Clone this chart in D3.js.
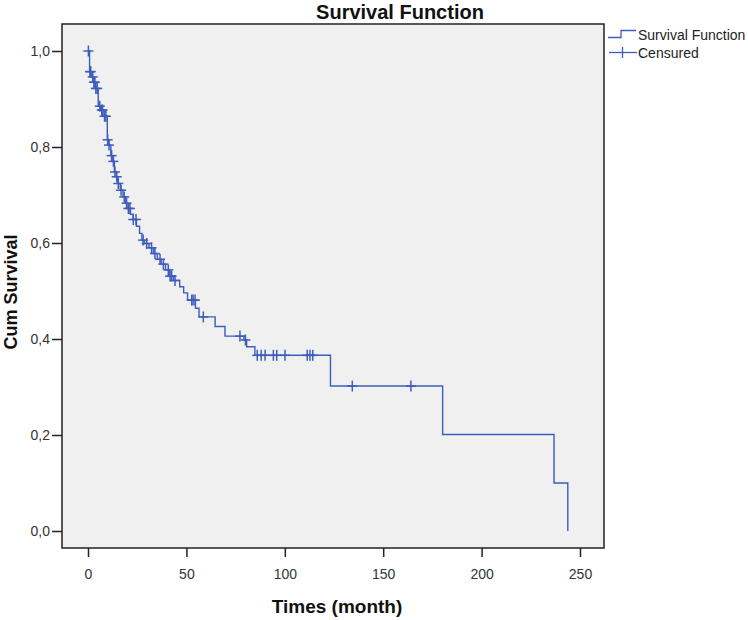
<!DOCTYPE html>
<html>
<head>
<meta charset="utf-8">
<script src="https://cdn.jsdelivr.net/npm/d3@7"></script>
<style>
html,body{margin:0;padding:0;background:#fff;}
svg{display:block;}
text{font-family:"Liberation Sans Narrow","Arial Narrow","Liberation Sans",Arial,sans-serif;}
</style>
</head>
<body>
<svg id="chart" width="748" height="620"></svg>
<script>
// ---- data ----
const chartTitle = "Survival Function";
const xTitle = "Times (month)";
const yTitle = "Cum Survival";
const xTicks = [0, 50, 100, 150, 200, 250];
const yTicks = [0, 0.2, 0.4, 0.6, 0.8, 1.0];
const yTickLabels = ["0,0", "0,2", "0,4", "0,6", "0,8", "1,0"];
const legendLabels = ["Survival Function", "Censured"];

// event times (months) and the cumulative survival right after each event
const eventTimes = [0.8, 1.6, 2.6, 3.6, 5.2, 6.4, 7.6, 9.8, 10.6, 11.6, 12.6, 13.4, 14.4, 15.2,
  16.4, 17.8, 19.2, 20.4, 21.6, 23.0, 24.6, 26.2, 27.4, 28.6, 31.0, 33.2, 35.2, 37.2, 39.4,
  41.4, 43.4, 46.6, 48.6, 50.6, 54.6, 56.4, 64.6, 69.6, 79.2, 80.6, 84.8, 123.2, 180.2, 236.8, 243.8];
const survival = [0.957, 0.946, 0.935, 0.922, 0.885, 0.877, 0.864, 0.815, 0.804, 0.782, 0.770, 0.748,
  0.738, 0.724, 0.710, 0.696, 0.683, 0.672, 0.660, 0.649, 0.635, 0.620, 0.606, 0.599, 0.590, 0.578,
  0.566, 0.556, 0.544, 0.531, 0.522, 0.509, 0.496, 0.481, 0.464, 0.446, 0.426, 0.406, 0.398, 0.384,
  0.366, 0.302, 0.201, 0.100, 0.0];
// censored observation times (months)
const censoredTimes = [0.2, 1.0, 1.4, 2.4, 3.0, 3.5, 4.0, 4.7, 6.0, 7.0, 7.4, 8.4, 9.1, 10.0, 10.7,
  12.0, 12.9, 13.7, 14.6, 15.4, 16.8, 18.4, 19.6, 20.5, 21.3, 23.0, 24.4, 28.0, 29.8, 32.3, 34.0,
  36.6, 38.3, 40.8, 41.7, 42.5, 44.2, 52.7, 53.4, 54.4, 58.6, 77.2, 80.0, 86.0, 88.0, 90.0, 94.2,
  95.9, 100.1, 111.4, 112.8, 114.2, 134.3, 164.1];

// ---- layout ----
const svg = d3.select("#chart");
const frame = {left: 62, right: 604, top: 24, bottom: 548};
const color = "#3d5cbc";
const fontStack = '"Liberation Sans Narrow","Arial Narrow","Liberation Sans",sans-serif';

const x = d3.scaleLinear().domain([0, 250]).range([88, 580]);
const y = d3.scaleLinear().domain([0, 1]).range([531, 51]);

// plot background
svg.append("rect")
  .attr("x", frame.left).attr("y", frame.top)
  .attr("width", frame.right - frame.left).attr("height", frame.bottom - frame.top)
  .attr("fill", "#f0f0f0").attr("stroke", "none");

// step data
const steps = [{t: 0, s: 1}].concat(eventTimes.map((t, i) => ({t: t, s: survival[i]})));
const survAt = t => {
  let s = 1;
  for (let i = 0; i < eventTimes.length; i++) { if (eventTimes[i] <= t) s = survival[i]; }
  return s;
};

const line = d3.line().x(d => x(d.t)).y(d => y(d.s)).curve(d3.curveStepAfter);
svg.append("path").datum(steps)
  .attr("d", line).attr("fill", "none")
  .attr("stroke", color).attr("stroke-width", 1.4);

// censored marks
const cg = svg.append("g").attr("stroke", color).attr("stroke-width", 1.5);
censoredTimes.forEach(t => {
  const cx = x(t), cy = y(survAt(t));
  cg.append("line").attr("x1", cx - 5).attr("x2", cx + 5).attr("y1", cy).attr("y2", cy);
  cg.append("line").attr("x1", cx).attr("x2", cx).attr("y1", cy - 5.5).attr("y2", cy + 5.5);
});

// frame
svg.append("rect")
  .attr("x", frame.left).attr("y", frame.top)
  .attr("width", frame.right - frame.left).attr("height", frame.bottom - frame.top)
  .attr("fill", "none").attr("stroke", "#222").attr("stroke-width", 1.5);

// x axis
const xAxis = d3.axisBottom(x).tickValues(xTicks).tickSize(9).tickPadding(12);
const xg = svg.append("g").attr("transform", `translate(0,${frame.bottom})`).call(xAxis);
xg.select(".domain").remove();
xg.selectAll(".tick line").attr("stroke", "#222").attr("stroke-width", 1.5);
xg.selectAll(".tick text").attr("font-size", 14).attr("fill", "#333").style("font-family", fontStack);

// y axis
const yAxis = d3.axisLeft(y).tickValues(yTicks).tickSize(10).tickPadding(2)
  .tickFormat(d => yTickLabels[yTicks.indexOf(d)]);
const yg = svg.append("g").attr("transform", `translate(${frame.left},0)`).call(yAxis);
yg.select(".domain").remove();
yg.selectAll(".tick line").attr("stroke", "#222").attr("stroke-width", 1.5);
yg.selectAll(".tick text").attr("font-size", 14).attr("fill", "#333").style("font-family", fontStack);

// titles
svg.append("text").attr("x", 400).attr("y", 19).attr("text-anchor", "middle")
  .attr("font-size", 20).attr("font-weight", "bold").attr("fill", "#111").text(chartTitle);
svg.append("text").attr("x", 337).attr("y", 613).attr("text-anchor", "middle")
  .attr("font-size", 19).attr("font-weight", "bold").attr("fill", "#111").text(xTitle);
svg.append("text").attr("transform", "translate(17,292) rotate(-90)").attr("text-anchor", "middle")
  .attr("font-size", 18).attr("font-weight", "bold").attr("fill", "#111").text(yTitle);

// legend
const lg = svg.append("g").attr("fill", "none").attr("stroke", color).attr("stroke-width", 1.3);
lg.append("path").attr("d", "M608,37.5H621V30.5H636");
lg.append("line").attr("x1", 609).attr("x2", 637).attr("y1", 52.5).attr("y2", 52.5);
lg.append("line").attr("x1", 622.5).attr("x2", 622.5).attr("y1", 47).attr("y2", 58);
svg.selectAll("text.leg").data(legendLabels).enter().append("text")
  .attr("class", "leg").attr("x", 638).attr("y", (d, i) => 40 + i * 18)
  .attr("font-size", 14).attr("fill", "#222").text(d => d);
</script>
</body>
</html>
